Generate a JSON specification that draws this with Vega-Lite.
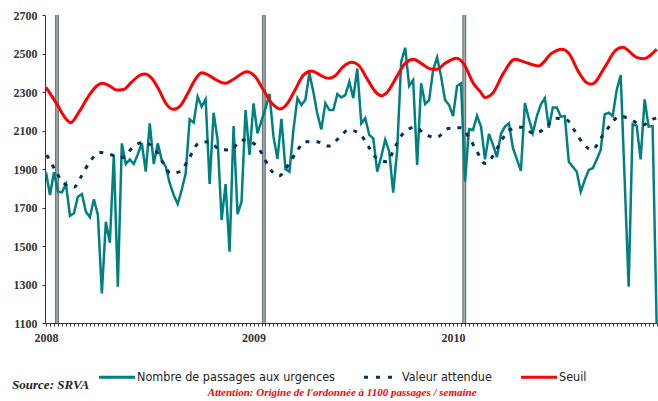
{
  "$schema": "https://vega.github.io/schema/vega-lite/v6.json",
  "autosize": {"type": "none"},
  "padding": {"left": 45, "top": 15, "right": 1, "bottom": 78},
  "width": 612,
  "height": 308,
  "background": "white",
  "config": {"view": {"stroke": null}, "axis": {"labelOverlap": false}},
  "datasets": {
    "bars": [{"w": 2.75}, {"w": 54.6}, {"w": 104.8}],
    "obs": [
      {"w":0,"v":1883},{"w":1,"v":1765},{"w":2,"v":1883},{"w":3,"v":1782},{"w":4,"v":1779},{"w":5,"v":1822},{"w":6,"v":1657},{"w":7,"v":1670},{"w":8,"v":1756},{"w":9,"v":1770},
      {"w":10,"v":1678},{"w":11,"v":1649},{"w":12,"v":1743},{"w":13,"v":1661},{"w":14,"v":1254},{"w":15,"v":1626},{"w":16,"v":1517},{"w":17,"v":1973},{"w":18,"v":1289},{"w":19,"v":2033},
      {"w":20,"v":1926},{"w":21,"v":1950},{"w":22,"v":1926},{"w":23,"v":1976},{"w":24,"v":2035},{"w":25,"v":1886},{"w":26,"v":2137},{"w":27,"v":1926},{"w":28,"v":2033},{"w":29,"v":1947},
      {"w":30,"v":1912},{"w":31,"v":1826},{"w":32,"v":1765},{"w":33,"v":1718},{"w":34,"v":1791},{"w":35,"v":1878},{"w":36,"v":2158},{"w":37,"v":2141},{"w":38,"v":2276},{"w":39,"v":2224},
      {"w":40,"v":2262},{"w":41,"v":1822},{"w":42,"v":2192},{"w":43,"v":2051},{"w":44,"v":1635},{"w":45,"v":1822},{"w":46,"v":1470},{"w":47,"v":2123},{"w":48,"v":1665},{"w":49,"v":1730},
      {"w":50,"v":2206},{"w":51,"v":1973},{"w":52,"v":2241},{"w":53,"v":2085},{"w":54,"v":2150},{"w":55,"v":2215},{"w":56,"v":2290},{"w":57,"v":2068},{"w":58,"v":1953},{"w":59,"v":2160},
      {"w":60,"v":1900},{"w":61,"v":1886},{"w":62,"v":2103},{"w":63,"v":2268},{"w":64,"v":2233},{"w":65,"v":2260},{"w":66,"v":2398},{"w":67,"v":2300},{"w":68,"v":2186},{"w":69,"v":2106},
      {"w":70,"v":2242},{"w":71,"v":2206},{"w":72,"v":2206},{"w":73,"v":2290},{"w":74,"v":2272},{"w":75,"v":2284},{"w":76,"v":2353},{"w":77,"v":2268},{"w":78,"v":2422},{"w":79,"v":2137},
      {"w":80,"v":2164},{"w":81,"v":2077},{"w":82,"v":2059},{"w":83,"v":1886},{"w":84,"v":1964},{"w":85,"v":2053},{"w":86,"v":1990},{"w":87,"v":1777},{"w":88,"v":1999},{"w":89,"v":2457},
      {"w":90,"v":2530},{"w":91,"v":2331},{"w":92,"v":2362},{"w":93,"v":1921},{"w":94,"v":2345},{"w":95,"v":2238},{"w":96,"v":2258},{"w":97,"v":2414},{"w":98,"v":2480},{"w":99,"v":2380},
      {"w":100,"v":2258},{"w":101,"v":2233},{"w":102,"v":2175},{"w":103,"v":2331},{"w":104,"v":2345},{"w":105,"v":1834},{"w":106,"v":2108},{"w":107,"v":2103},{"w":108,"v":2177},{"w":109,"v":2121},
      {"w":110,"v":1950},{"w":111,"v":2082},{"w":112,"v":2025},{"w":113,"v":1962},{"w":114,"v":2083},{"w":115,"v":2120},{"w":116,"v":2137},{"w":117,"v":2009},{"w":118,"v":1950},{"w":119,"v":1891},
      {"w":120,"v":2242},{"w":121,"v":2161},{"w":122,"v":2088},{"w":123,"v":2175},{"w":124,"v":2235},{"w":125,"v":2268},{"w":126,"v":2114},{"w":127,"v":2220},{"w":128,"v":2220},{"w":129,"v":2172},
      {"w":130,"v":2175},{"w":131,"v":1938},{"w":132,"v":1912},{"w":133,"v":1886},{"w":134,"v":1782},{"w":135,"v":1843},{"w":136,"v":1895},{"w":137,"v":1904},{"w":138,"v":1950},{"w":139,"v":1999},
      {"w":140,"v":2184},{"w":141,"v":2192},{"w":142,"v":2175},{"w":143,"v":2310},{"w":144,"v":2388},{"w":145,"v":1840},{"w":146,"v":1289},{"w":147,"v":2132},{"w":148,"v":2125},{"w":149,"v":1950},
      {"w":150,"v":2262},{"w":151,"v":2120},{"w":152,"v":2123},{"w":153,"v":1100}
    ],
    "expected": [
      {"w":0.2,"v":1973},{"w":2.3,"v":1895},{"w":4.3,"v":1829},{"w":7,"v":1805},{"w":8.9,"v":1864},{"w":11,"v":1938},{"w":13.5,"v":1986},{"w":16.5,"v":1973},{"w":19.2,"v":1960},{"w":21.9,"v":2016},
      {"w":24.4,"v":2039},{"w":27.1,"v":2008},{"w":29,"v":1943},{"w":31.3,"v":1878},{"w":33.6,"v":1886},{"w":35.7,"v":1950},{"w":38.2,"v":2033},{"w":40.7,"v":2042},{"w":43.6,"v":2002},{"w":46.3,"v":1999},
      {"w":49,"v":2051},{"w":52,"v":2033},{"w":54.1,"v":1981},{"w":56,"v":1904},{"w":58.4,"v":1864},{"w":60.7,"v":1921},{"w":62.8,"v":1990},{"w":64.9,"v":2042},{"w":67.8,"v":2042},{"w":70.8,"v":2019},
      {"w":73.3,"v":2059},{"w":75.8,"v":2103},{"w":78.7,"v":2082},{"w":80.8,"v":2016},{"w":82.9,"v":1955},{"w":85.4,"v":1938},{"w":87.5,"v":2016},{"w":89.5,"v":2085},{"w":92.5,"v":2117},{"w":95.2,"v":2077},
      {"w":97.9,"v":2065},{"w":100.8,"v":2110},{"w":103.8,"v":2114},{"w":106.3,"v":2053},{"w":108,"v":1990},{"w":110,"v":1929},{"w":112,"v":1968},{"w":113.8,"v":2036},{"w":116.3,"v":2104},{"w":119.2,"v":2117},
      {"w":122.3,"v":2085},{"w":125.1,"v":2112},{"w":127.6,"v":2164},{"w":130.5,"v":2155},{"w":132.6,"v":2094},{"w":134.7,"v":2030},{"w":136.8,"v":1999},{"w":139.3,"v":2068},{"w":141.4,"v":2128},{"w":143.7,"v":2175},
      {"w":146.4,"v":2158},{"w":149.5,"v":2128},{"w":152.2,"v":2160},{"w":153,"v":2165}
    ],
    "threshold": [
      {"w":0,"v":2324},{"w":3.1,"v":2224},{"w":4.3,"v":2181},{"w":6.2,"v":2141},{"w":8.1,"v":2190},{"w":10.6,"v":2276},{"w":12.7,"v":2331},{"w":14,"v":2345},{"w":16,"v":2331},{"w":17.7,"v":2310},
      {"w":19.4,"v":2313},{"w":21.5,"v":2353},{"w":23.6,"v":2388},{"w":24.8,"v":2394},{"w":26.5,"v":2371},{"w":28.1,"v":2319},{"w":30.3,"v":2233},{"w":31.9,"v":2210},{"w":33.6,"v":2227},{"w":35.3,"v":2284},
      {"w":37.3,"v":2362},{"w":39,"v":2400},{"w":40.7,"v":2388},{"w":42,"v":2371},{"w":44.9,"v":2345},{"w":46.9,"v":2365},{"w":50.3,"v":2405},{"w":52.4,"v":2380},{"w":54.5,"v":2310},{"w":56.6,"v":2241},
      {"w":58.6,"v":2212},{"w":60.2,"v":2233},{"w":62.4,"v":2310},{"w":64.5,"v":2388},{"w":66.6,"v":2409},{"w":68.7,"v":2388},{"w":70.8,"v":2371},{"w":72.4,"v":2383},{"w":74.5,"v":2432},{"w":76.6,"v":2454},
      {"w":78.3,"v":2440},{"w":80.4,"v":2371},{"w":82.5,"v":2302},{"w":84.1,"v":2281},{"w":85.4,"v":2297},{"w":87.9,"v":2380},{"w":90,"v":2449},{"w":92.1,"v":2470},{"w":94.2,"v":2446},{"w":96.2,"v":2421},
      {"w":97.9,"v":2418},{"w":100,"v":2449},{"w":102.9,"v":2475},{"w":104.6,"v":2449},{"w":107.1,"v":2345},{"w":108.8,"v":2302},{"w":110,"v":2271},{"w":111.9,"v":2293},{"w":114.6,"v":2397},{"w":117.5,"v":2470},
      {"w":119.6,"v":2458},{"w":123.4,"v":2435},{"w":126.7,"v":2501},{"w":129.2,"v":2522},{"w":130.9,"v":2504},{"w":133.4,"v":2406},{"w":135.5,"v":2348},{"w":136.8,"v":2341},{"w":140.1,"v":2432},{"w":142.6,"v":2514},
      {"w":144.5,"v":2532},{"w":148,"v":2480},{"w":149.7,"v":2473},{"w":153,"v":2522}
    ]
  },
  "layer": [
    {
      "data": {"name": "bars"},
      "mark": {"type": "rule", "color": "#6f7a78", "strokeWidth": 4},
      "encoding": {
        "x": {"field": "w", "type": "quantitative",
          "scale": {"domain": [-0.25, 153.1], "nice": false, "zero": false},
          "axis": {
            "values": [0,1,2,3,4,5,6,7,8,9,10,11,12,13,14,15,16,17,18,19,20,21,22,23,24,25,26,27,28,29,30,31,32,33,34,35,36,37,38,39,40,41,42,43,44,45,46,47,48,49,50,51,52,53,54,55,56,57,58,59,60,61,62,63,64,65,66,67,68,69,70,71,72,73,74,75,76,77,78,79,80,81,82,83,84,85,86,87,88,89,90,91,92,93,94,95,96,97,98,99,100,101,102,103,104,105,106,107,108,109,110,111,112,113,114,115,116,117,118,119,120,121,122,123,124,125,126,127,128,129,130,131,132,133,134,135,136,137,138,139,140,141,142,143,144,145,146,147,148,149,150,151,152,153],
            "tickCount": 400,
            "labelExpr": "datum.value == 0 ? '2008' : datum.value == 52 ? '2009' : datum.value == 102 ? '2010' : ''",
            "labelOverlap": false, "labelFlush": false,
            "labelFont": "Liberation Serif", "labelFontWeight": "bold", "labelFontSize": 12, "labelColor": "#333333",
            "labelPadding": 6, "tickSize": 3, "tickColor": "#333333", "domainColor": "#333333",
            "grid": false, "title": null
          }
        }
      }
    },
    {
      "data": {"name": "bars"},
      "mark": {"type": "rule", "color": "#a3acaa", "strokeWidth": 1.5},
      "encoding": {"x": {"field": "w", "type": "quantitative"}}
    },
    {
      "data": {"name": "obs"},
      "mark": {"type": "line", "strokeWidth": 2.5},
      "encoding": {
        "x": {"field": "w", "type": "quantitative"},
        "y": {"field": "v", "type": "quantitative",
          "scale": {"domain": [1100, 2700], "nice": false, "zero": false},
          "axis": {
            "values": [1100,1300,1500,1700,1900,2100,2300,2500,2700],
            "tickCount": 40,
            "format": "d", "labelOverlap": false,
            "labelFont": "Liberation Serif", "labelFontWeight": "bold", "labelFontSize": 12, "labelColor": "#333333",
            "labelPadding": 5, "tickSize": 3, "tickColor": "#333333", "domainColor": "#333333",
            "grid": false, "title": null
          }
        },
        "color": {"datum": "Nombre de passages aux urgences", "type": "nominal",
          "scale": {"domain": ["Nombre de passages aux urgences", "Valeur attendue", "Seuil"], "range": ["#008080", "#06305e", "#ff0000"]},
          "legend": {
            "title": null, "orient": "none", "direction": "horizontal", "legendX": 52, "legendY": 342,
            "symbolType": "stroke", "symbolSize": 1300, "symbolStrokeWidth": 3,
            "labelFont": "Liberation Sans Narrow, DejaVu Sans Condensed, Liberation Sans", "labelFontSize": 12.5, "labelColor": "#222222",
            "labelLimit": 320, "labelOffset": 0, "columnPadding": 22,
            "encode": {"symbols": {"update": {"strokeDash": {"signal": "datum.value == 'Valeur attendue' ? [4, 8] : [1, 0]"}}}}
          }
        }
      }
    },
    {
      "data": {"name": "expected"},
      "mark": {"type": "line", "strokeWidth": 3, "strokeDash": [4, 7], "interpolate": "monotone"},
      "encoding": {
        "x": {"field": "w", "type": "quantitative"},
        "y": {"field": "v", "type": "quantitative"},
        "color": {"datum": "Valeur attendue", "type": "nominal"}
      }
    },
    {
      "data": {"name": "threshold"},
      "mark": {"type": "line", "strokeWidth": 3, "interpolate": "monotone"},
      "encoding": {
        "x": {"field": "w", "type": "quantitative"},
        "y": {"field": "v", "type": "quantitative"},
        "color": {"datum": "Seuil", "type": "nominal"}
      }
    },
    {
      "data": {"values": [{"t": "Source: SRVA"}]},
      "mark": {"type": "text", "align": "left", "baseline": "alphabetic", "font": "Liberation Serif", "fontStyle": "italic", "fontWeight": "bold", "fontSize": 13, "color": "#222222"},
      "encoding": {
        "x": {"datum": -8.5, "type": "quantitative"},
        "y": {"datum": 757, "type": "quantitative"},
        "text": {"field": "t"}
      }
    },
    {
      "data": {"values": [{"t": "Attention: Origine de l'ordonnée à 1100 passages / semaine"}]},
      "mark": {"type": "text", "align": "center", "baseline": "alphabetic", "font": "Liberation Serif", "fontStyle": "italic", "fontWeight": "bold", "fontSize": 11, "color": "#ff0000"},
      "encoding": {
        "x": {"datum": 74.2, "type": "quantitative"},
        "y": {"datum": 721, "type": "quantitative"},
        "text": {"field": "t"}
      }
    }
  ]
}
